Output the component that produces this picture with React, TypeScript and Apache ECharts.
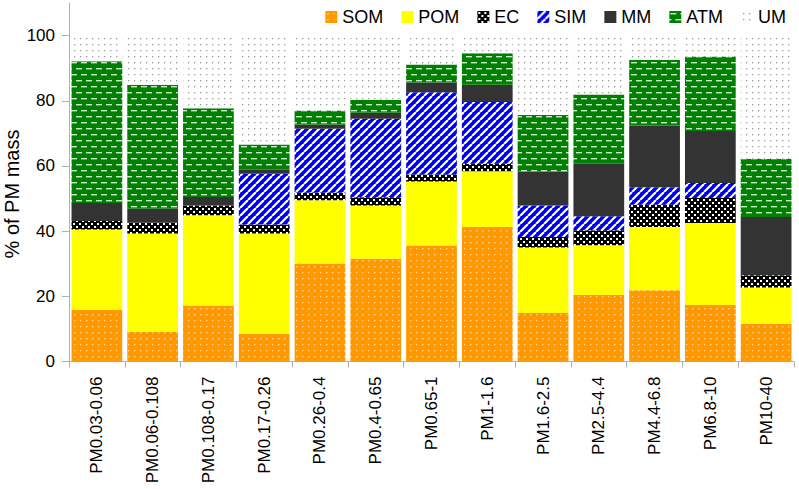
import React, { useEffect, useRef } from "react";
import * as echarts from "echarts";

const categories = [
  "PM0.03-0.06", "PM0.06-0.108", "PM0.108-0.17", "PM0.17-0.26", "PM0.26-0.4",
  "PM0.4-0.65", "PM0.65-1", "PM1-1.6", "PM1.6-2.5", "PM2.5-4.4",
  "PM4.4-6.8", "PM6.8-10", "PM10-40",
];

const SOM = [15.8, 9.1, 17.2, 8.4, 30.1, 31.5, 35.6, 41.3, 14.9, 20.4, 21.9, 17.3, 11.5];
const POM = [24.7, 30.2, 27.7, 30.9, 19.4, 16.4, 19.6, 17.1, 20.1, 15.3, 19.4, 25.2, 11.2];
const EC = [2.6, 3.3, 3.0, 2.7, 2.3, 2.5, 2.2, 2.3, 3.2, 4.6, 6.8, 7.7, 3.8];
const SIM = [0, 0, 0, 15.6, 19.6, 24.1, 25.2, 18.9, 9.7, 4.3, 5.4, 4.6, 0];
const MM = [5.5, 4.3, 2.6, 1.2, 1.3, 1.8, 3.0, 5.3, 10.4, 16.1, 18.9, 15.9, 17.8];
const ATM = [43.5, 38.0, 27.2, 7.8, 4.3, 4.0, 5.5, 9.7, 17.3, 21.2, 20.2, 22.9, 17.9];
const UM = [7.9, 15.1, 22.3, 33.4, 23.0, 19.7, 8.9, 5.4, 24.4, 18.1, 7.4, 6.4, 37.8];

const yTicks = [0, 20, 40, 60, 80, 100];

const FONT = "'Liberation Sans', Arial, Helvetica, sans-serif";

function makePattern(w: number, h: number, bg: string, draw: (ctx: CanvasRenderingContext2D) => void) {
  const c = document.createElement("canvas");
  c.width = w;
  c.height = h;
  const ctx = c.getContext("2d") as CanvasRenderingContext2D;
  ctx.fillStyle = bg;
  ctx.fillRect(0, 0, w, h);
  draw(ctx);
  return { image: c, repeat: "repeat", imageWidth: w, imageHeight: h } as any;
}

export default function App() {
  const ref = useRef<HTMLDivElement>(null);

  useEffect(() => {
    document.body.style.margin = "0";
    if (!ref.current) return;
    const chart = echarts.init(ref.current, null, { renderer: "svg" });

    const somPat = makePattern(6, 6, "#ff9900", (ctx) => {
      ctx.fillStyle = "rgba(255,255,255,0.55)";
      ctx.fillRect(2, 2, 1.4, 1.4);
    });
    const pomColor = "#ffff00";
    const ecPat = makePattern(6, 6, "#000000", (ctx) => {
      ctx.fillStyle = "#ffffff";
      ctx.fillRect(1, 1, 2, 2);
      ctx.fillRect(4, 4, 2, 2);
    });
    const simPat = makePattern(8, 8, "#0000f0", (ctx) => {
      ctx.strokeStyle = "#ffffff";
      ctx.lineWidth = 2.2;
      for (let k = -1; k <= 1; k++) {
        ctx.beginPath();
        ctx.moveTo(k * 8, 8);
        ctx.lineTo(k * 8 + 8, 0);
        ctx.stroke();
      }
    });
    const mmColor = "#333333";
    const atmPat = makePattern(10, 12, "#008000", (ctx) => {
      ctx.fillStyle = "rgba(255,255,255,0.8)";
      ctx.fillRect(1, 2, 6, 1.4);
      ctx.fillRect(6, 8, 4, 1.4);
      ctx.fillRect(0, 8, 2, 1.4);
    });
    const umPat = makePattern(6, 6, "#ffffff", (ctx) => {
      ctx.fillStyle = "#9a9a9a";
      ctx.fillRect(2, 2, 1.3, 1.3);
    });

    const seriesDefs = [
      { name: "SOM", data: SOM, color: somPat },
      { name: "POM", data: POM, color: pomColor },
      { name: "EC", data: EC, color: ecPat },
      { name: "SIM", data: SIM, color: simPat },
      { name: "MM", data: MM, color: mmColor },
      { name: "ATM", data: ATM, color: atmPat },
      { name: "UM", data: UM, color: umPat },
    ];

    chart.setOption({
      animation: false,
      textStyle: { fontFamily: FONT },
      legend: {
        right: 8,
        top: 3,
        itemWidth: 12,
        itemHeight: 12,
        itemGap: 18,
        icon: "rect",
        textStyle: { fontSize: 18, color: "#000", fontFamily: FONT },
        data: seriesDefs.map((s) => s.name),
      },
      grid: { left: 69, right: 5, top: 3, bottom: 127.5, containLabel: false },
      xAxis: {
        type: "category",
        data: categories,
        axisLine: { lineStyle: { color: "#b0b0b0", width: 1 } },
        axisTick: { show: true, length: 6, interval: 0, lineStyle: { color: "#b0b0b0" } },
        axisLabel: {
          interval: 0,
          rotate: 90,
          margin: 15,
          fontSize: 17,
          color: "#000",
          fontFamily: FONT,
        },
      },
      yAxis: {
        type: "value",
        min: 0,
        max: 110,
        interval: 20,
        splitLine: { show: false },
        axisLine: { show: true, lineStyle: { color: "#b0b0b0", width: 1 } },
        axisTick: { show: true, length: 7, customValues: yTicks, lineStyle: { color: "#b0b0b0" } },
        axisLabel: {
          customValues: yTicks,
          margin: 14,
          fontSize: 17,
          color: "#000",
          fontFamily: FONT,
        },
      },
      graphic: [
        {
          type: "text",
          x: 12,
          y: 194,
          rotation: Math.PI / 2,
          style: {
            text: "% of PM mass",
            font: `20px ${FONT}`,
            fill: "#000",
            align: "center",
            verticalAlign: "middle",
          },
        },
      ],
      series: seriesDefs.map((s) => ({
        name: s.name,
        type: "bar",
        stack: "total",
        data: s.data,
        barCategoryGap: "9%",
        itemStyle: { color: s.color, borderWidth: 0 },
        emphasis: { disabled: true },
      })),
    });

    return () => chart.dispose();
  }, []);

  return <div ref={ref} style={{ width: 799, height: 489 }} />;
}
